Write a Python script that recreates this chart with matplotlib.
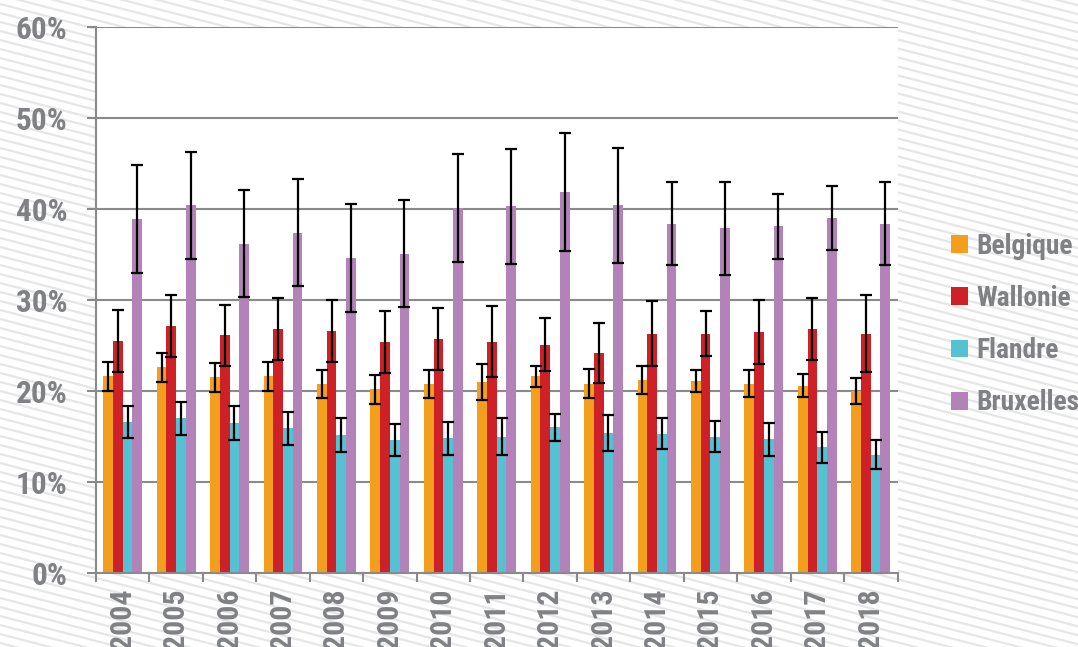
import matplotlib
matplotlib.use("Agg")
import matplotlib.pyplot as plt
from matplotlib import font_manager
from matplotlib.patches import Patch

# -------------------------
# Data (values in %)
# -------------------------
years = ["2004", "2005", "2006", "2007", "2008", "2009", "2010", "2011",
         "2012", "2013", "2014", "2015", "2016", "2017", "2018"]

belgique = [21.6, 22.6, 21.5, 21.6, 20.8, 20.2, 20.8, 21.0,
            21.6, 20.8, 21.2, 21.1, 20.8, 20.6, 20.0]
belgique_err = [1.6, 1.6, 1.6, 1.6, 1.55, 1.6, 1.55, 2.0,
                1.2, 1.6, 1.5, 1.2, 1.5, 1.3, 1.4]

wallonie = [25.5, 27.1, 26.1, 26.8, 26.6, 25.4, 25.7, 25.4,
            25.1, 24.2, 26.3, 26.3, 26.5, 26.8, 26.3]
wallonie_err = [3.4, 3.4, 3.4, 3.4, 3.4, 3.4, 3.4, 3.9,
                2.9, 3.3, 3.6, 2.5, 3.5, 3.4, 4.2]

flandre = [16.6, 17.0, 16.5, 15.9, 15.2, 14.6, 14.8, 15.0,
           16.0, 15.4, 15.3, 15.0, 14.7, 13.8, 13.0]
flandre_err = [1.8, 1.8, 1.85, 1.8, 1.85, 1.75, 1.8, 2.05,
               1.5, 2.0, 1.7, 1.75, 1.8, 1.7, 1.6]

bruxelles = [38.9, 40.4, 36.2, 37.4, 34.6, 35.1, 40.1, 40.3,
             41.9, 40.4, 38.4, 37.9, 38.1, 39.0, 38.4]
bruxelles_err = [5.9, 5.9, 5.9, 5.9, 5.9, 5.9, 5.9, 6.3,
                 6.5, 6.3, 4.6, 5.1, 3.6, 3.5, 4.6]

series_names = ["Belgique", "Wallonie", "Flandre", "Bruxelles"]
series_values = [belgique, wallonie, flandre, bruxelles]
series_errors = [belgique_err, wallonie_err, flandre_err, bruxelles_err]
colors = ["#F49E1E", "#CE2127", "#57C1D4", "#B382B8"]

y_ticks = [0, 10, 20, 30, 40, 50, 60]
y_labels = ["0%", "10%", "20%", "30%", "40%", "50%", "60%"]

# -------------------------
# Font
# -------------------------
available = {f.name for f in font_manager.fontManager.ttflist}
family = "DejaVu Sans"
for name in ["Liberation Sans Narrow", "Roboto Condensed", "Open Sans Condensed"]:
    if name in available:
        family = name
        break
plt.rcParams["font.family"] = [family, "DejaVu Sans"]
plt.rcParams["font.weight"] = "bold"

text_gray = "#808184"
axis_gray = "#8a8a8a"

W, H = 1078, 647
fig = plt.figure(figsize=(W / 100, H / 100), dpi=100)
fig.patch.set_facecolor("white")

# -------------------------
# Striped background
# -------------------------
bg = fig.add_axes([0, 0, 1, 1], zorder=0)
bg.set_xlim(0, W)
bg.set_ylim(H, 0)
bg.axis("off")
slope = 0.26
for c in range(-320, H + 20, 9):
    bg.plot([0, W], [c, c + slope * W], color="#e6e6e6", lw=1.6,
            solid_capstyle="butt")

# -------------------------
# Main chart
# -------------------------
ax = fig.add_axes([96 / W, 1 - 573 / H, (897.5 - 96) / W, (573 - 27) / H],
                  zorder=1)
ax.set_facecolor("white")

n_series = len(series_names)
bar_w = 1 / (n_series + 1.5)
x = list(range(len(years)))

for k in range(n_series):
    offset = (k - (n_series - 1) / 2) * bar_w
    pos = [i + offset for i in x]
    ax.bar(pos, series_values[k], width=bar_w, color=colors[k],
           label=series_names[k], zorder=2)
    ax.errorbar(pos, series_values[k], yerr=series_errors[k], fmt="none",
                ecolor="black", elinewidth=1.6, capsize=4.6,
                capthick=1.6, zorder=3)

ax.set_xlim(-0.5, len(years) - 0.5)
ax.set_ylim(0, 60)

ax.set_yticks(y_ticks)
ax.set_yticklabels(y_labels)
ax.yaxis.grid(True, color=axis_gray, lw=1.5, zorder=1)
ax.set_axisbelow(True)

ax.set_xticks([i - 0.5 for i in range(len(years) + 1)])
ax.set_xticklabels([])
ax.set_xticks(x, minor=True)
ax.set_xticklabels(years, minor=True, rotation=90, va="top", ha="center")

for side in ["top", "right"]:
    ax.spines[side].set_visible(False)
for side in ["left", "bottom"]:
    ax.spines[side].set_color(axis_gray)
    ax.spines[side].set_linewidth(1.5)

ax.tick_params(axis="y", which="major", length=6.5, width=1.5,
               color=axis_gray, pad=14, labelsize=22.5,
               labelcolor=text_gray)
ax.tick_params(axis="x", which="major", length=6.5, width=1.5,
               color=axis_gray)
ax.tick_params(axis="x", which="minor", length=0, pad=11,
               labelsize=21.5, labelcolor=text_gray)
for lbl in ax.get_yticklabels() + ax.get_xticklabels(minor=True):
    lbl.set_fontweight("bold")

# -------------------------
# Legend
# -------------------------
handles = [Patch(facecolor=c, edgecolor="none") for c in colors]
leg = fig.legend(handles, series_names, loc="center left",
                 bbox_to_anchor=(951 / W, 1 - 324.5 / H),
                 frameon=False, borderpad=0, borderaxespad=0,
                 handlelength=0.62, handleheight=0.62, handletextpad=0.3,
                 labelspacing=0.92, prop={"size": 19.8,
                                          "weight": "bold"})
for t in leg.get_texts():
    t.set_color(text_gray)

plt.savefig("out.png", dpi=100)
plt.close()
